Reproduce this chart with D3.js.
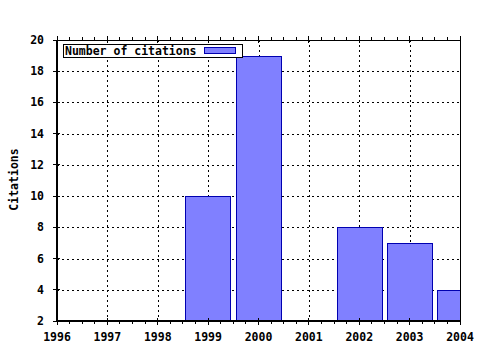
<!DOCTYPE html>
<html>
<head>
<meta charset="utf-8">
<script src="https://cdn.jsdelivr.net/npm/d3@7"></script>
<style>
  body { margin: 0; background: #fff; }
  text { font-family: "DejaVu Sans Mono", monospace; font-weight: bold; font-size: 11.5px; fill: #000; }
</style>
</head>
<body>
<div id="chart"></div>
<script>
// Data
const years = [1999, 2000, 2002, 2003, 2004];
const citations = [10, 19, 8, 7, 4];
const xTicks = [1996, 1997, 1998, 1999, 2000, 2001, 2002, 2003, 2004];
const yTicks = [2, 4, 6, 8, 10, 12, 14, 16, 18, 20];
const seriesName = "Number of citations";

// Plot box
let margin = {top: 40, right: 20, bottom: 29, left: 57};
let width = 480 - margin.left - margin.right;
let height = 350 - margin.top - margin.bottom;

let svg = d3.select("#chart").append("svg")
    .attr("width", 480)
    .attr("height", 350);

svg.append("defs").append("clipPath")
    .attr("id", "plotclip")
    .append("rect")
    .attr("width", width)
    .attr("height", height);

let g = svg.append("g")
    .attr("transform", "translate(" + margin.left + "," + margin.top + ")");

const xScale = d3.scaleLinear().domain([1996, 2004]).range([0, width]);
const yScale = d3.scaleLinear().domain([2, 20]).range([height, 0]);

// Dotted grid
g.append("g")
    .selectAll("line")
    .data(xTicks.slice(1, -1))
    .join("line")
    .attr("x1", d => Math.round(xScale(d)) + 0.5)
    .attr("x2", d => Math.round(xScale(d)) + 0.5)
    .attr("y1", 0)
    .attr("y2", height)
    .attr("stroke", "#000")
    .attr("stroke-dasharray", "2,3");

g.append("g")
    .selectAll("line")
    .data(yTicks.slice(1, -1))
    .join("line")
    .attr("x1", 0)
    .attr("x2", width)
    .attr("y1", d => Math.round(yScale(d)) + 0.5)
    .attr("y2", d => Math.round(yScale(d)) + 0.5)
    .attr("stroke", "#000")
    .attr("stroke-dasharray", "2,3");

// Bars
const barW = xScale(1996.9) - xScale(1996);
g.append("g")
    .attr("clip-path", "url(#plotclip)")
    .selectAll("rect")
    .data(years.map((y, i) => ({year: y, value: citations[i]})))
    .join("rect")
    .attr("x", d => Math.round(xScale(d.year) - barW / 2) + 0.5)
    .attr("y", d => Math.round(yScale(d.value)) + 0.5)
    .attr("width", Math.round(barW))
    .attr("height", d => Math.round(yScale(2)) - Math.round(yScale(d.value)))
    .attr("fill", "#8080ff")
    .attr("stroke", "#0000b0")
    .attr("stroke-width", 1);

// Frame: left, bottom, top, right
const frame = g.append("g").attr("stroke", "#000").attr("shape-rendering", "crispEdges");
frame.append("line").attr("x1", 0).attr("x2", 0).attr("y1", 0).attr("y2", height).attr("stroke-width", 2);
frame.append("line").attr("x1", 0).attr("x2", width).attr("y1", height).attr("y2", height).attr("stroke-width", 2);
frame.append("line").attr("x1", 0).attr("x2", width).attr("y1", 0).attr("y2", 0);
frame.append("line").attr("x1", width).attr("x2", width).attr("y1", 0).attr("y2", height);

// Minor x ticks, bottom and top
const minor = d3.range(1996, 2004.001, 0.25).filter(v => Math.abs(v - Math.round(v)) > 0.01);
frame.selectAll(".mb").data(minor).join("line")
    .attr("x1", d => xScale(d)).attr("x2", d => xScale(d))
    .attr("y1", height).attr("y2", height + 3);
frame.selectAll(".mt").data(minor).join("line")
    .attr("x1", d => xScale(d)).attr("x2", d => xScale(d))
    .attr("y1", 0).attr("y2", -3);

// Major x ticks
frame.selectAll(".xb").data(xTicks).join("line")
    .attr("x1", d => xScale(d)).attr("x2", d => xScale(d))
    .attr("y1", height - 3).attr("y2", height + 4);
frame.selectAll(".xt").data(xTicks).join("line")
    .attr("x1", d => xScale(d)).attr("x2", d => xScale(d))
    .attr("y1", -4).attr("y2", 3);

// Major y ticks
frame.selectAll(".yl").data(yTicks).join("line")
    .attr("x1", -4).attr("x2", 3)
    .attr("y1", d => yScale(d)).attr("y2", d => yScale(d));

// Tick labels
g.append("g").selectAll("text").data(xTicks).join("text")
    .attr("x", d => xScale(d))
    .attr("y", height + 20)
    .attr("text-anchor", "middle")
    .text(d => d);

g.append("g").selectAll("text").data(yTicks).join("text")
    .attr("x", -13)
    .attr("y", d => yScale(d) + 4)
    .attr("text-anchor", "end")
    .text(d => d);

// Y axis title
svg.append("text")
    .attr("transform", "translate(18," + (margin.top + height / 2 - 1) + ") rotate(-90)")
    .attr("text-anchor", "middle")
    .text("Citations");

// Legend
const legend = svg.append("g").attr("transform", "translate(63,44)");
legend.append("rect")
    .attr("x", 0.5).attr("y", 0.5)
    .attr("width", 179).attr("height", 13)
    .attr("fill", "#fff")
    .attr("stroke", "#000");
legend.append("text")
    .attr("x", 2)
    .attr("y", 10.5)
    .text(seriesName);
legend.append("rect")
    .attr("x", 141.5).attr("y", 3.5)
    .attr("width", 31).attr("height", 6)
    .attr("fill", "#8080ff")
    .attr("stroke", "#0000b0");
</script>
</body>
</html>
